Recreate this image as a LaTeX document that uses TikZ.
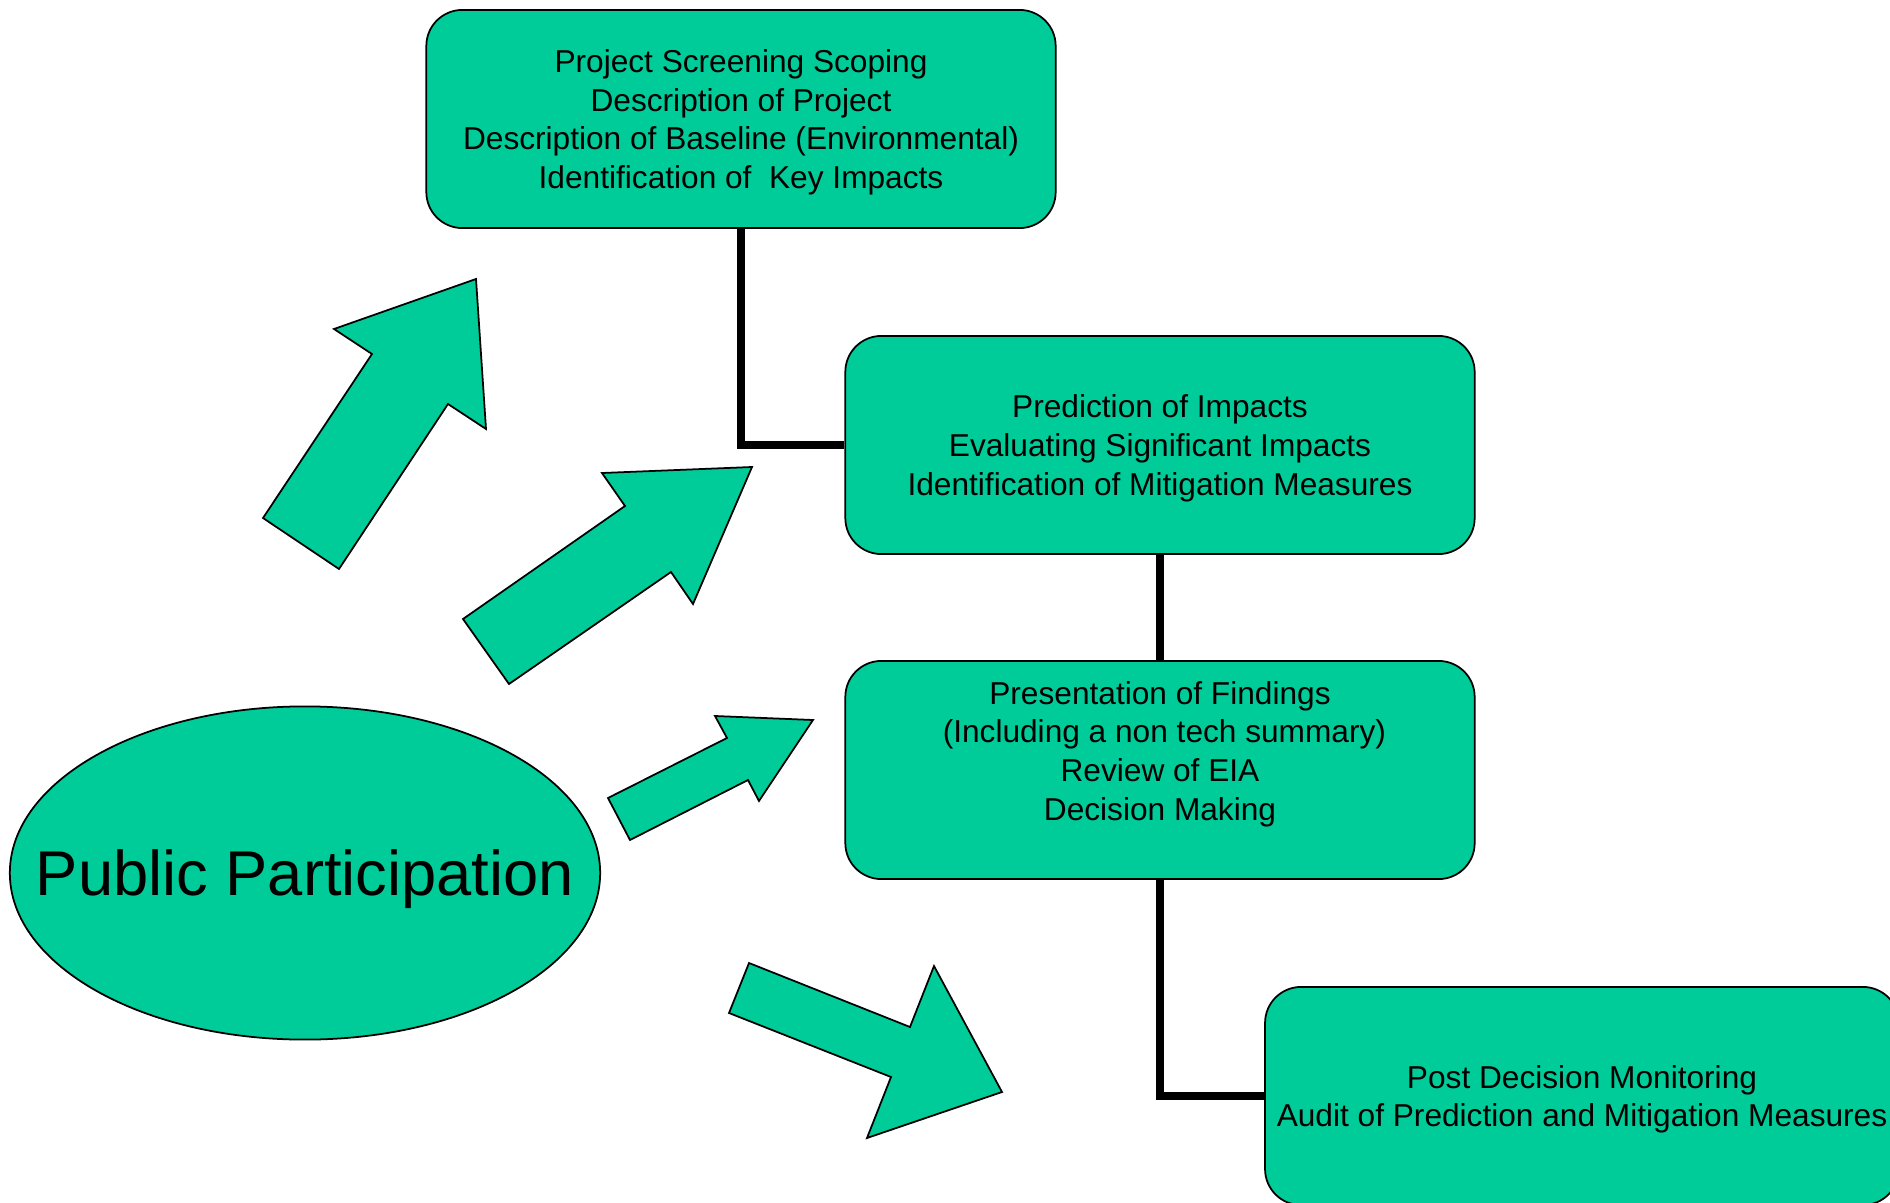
\documentclass[tikz,border=0pt]{standalone}
\usepackage{fontspec}
\setmainfont{Liberation Sans}
\usetikzlibrary{shapes.geometric}
\definecolor{eiagreen}{RGB}{0,204,153}
\tikzset{
  stage/.style={draw, fill=eiagreen, rounded corners=0.36cm, line width=0.5pt,
    minimum width=6.29cm, minimum height=2.18cm, align=center, text depth=0pt,
    font=\fontsize{9}{11}\selectfont},
  link/.style={line width=2pt},
  bigarrow/.style={draw, fill=eiagreen, line width=0.5pt, line join=miter}
}
\begin{document}
\begin{tikzpicture}[x=0.01cm, y=-0.01cm]
\useasboundingbox (0,0) rectangle (1890,1203);
% draw stage boxes
\node[stage] (scoping) at (741,119) {Project Screening Scoping\\ Description of Project\\ Description of Baseline (Environmental)\\ Identification of~ Key Impacts};
\node[stage] (prediction) at (1160,445) {Prediction of Impacts\\ Evaluating Significant Impacts\\ Identification of Mitigation Measures};
\node[stage] (findings) at (1160,770) {Presentation of Findings\\ \ (Including a non tech summary)\\ Review of EIA\\ Decision Making\\ \mbox{}};
\node[stage] (monitoring) at (1582,1096) {Post Decision Monitoring\\ Audit of Prediction and Mitigation Measures};
% draw ellipse
\node[draw, fill=eiagreen, ellipse, line width=0.5pt, minimum width=5.9cm, minimum height=3.33cm,
  inner sep=0pt] (public) at (305,873) {};
\node[font=\fontsize{18}{22}\selectfont, text depth=0pt] (publictext) at (public.center) {Public Participation};
% draw connecting lines
\draw[link] (scoping.south) |- (prediction.west);
\draw[link] (prediction.south) -- (findings.north);
\draw[link] (findings.south) |- (monitoring.west);
% draw block arrows
\draw[bigarrow] (263,518) -- (372,354) -- (334,329) -- (476,279) -- (486,429) -- (448,404) -- (339,569) -- cycle;
\draw[bigarrow] (463,619) -- (625,506) -- (602,473) -- (752,467) -- (693,604) -- (671,572) -- (509,684) -- cycle;
\draw[bigarrow] (608,798) -- (727,738) -- (715,716) -- (813,720) -- (759,801) -- (748,780) -- (630,840) -- cycle;
\draw[bigarrow] (749,963) -- (910,1027) -- (934,966) -- (1002,1092) -- (867,1138) -- (891,1077) -- (729,1013) -- cycle;
\end{tikzpicture}
\end{document}
